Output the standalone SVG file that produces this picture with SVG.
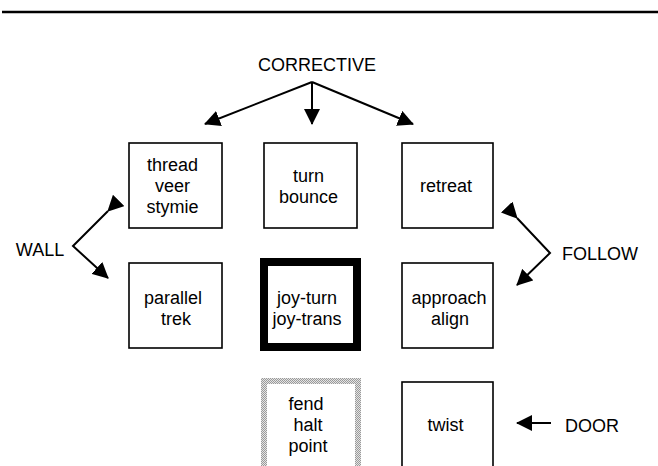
<svg xmlns="http://www.w3.org/2000/svg" width="658" height="466" viewBox="0 0 658 466">
<style>
text{font-family:"Liberation Sans",Arial,sans-serif;font-size:18px;fill:#000;text-anchor:middle}
.box{fill:#fff;stroke:#000;stroke-width:1.6}
.thick{fill:#fff;stroke:#000;stroke-width:8}
.dot{fill:#fff;stroke:url(#chk);stroke-width:6}
.con{stroke:#000;stroke-width:2;fill:none}
</style>
<defs>
<pattern id="chk" width="2" height="2" patternUnits="userSpaceOnUse">
<rect width="2" height="2" fill="#e4e4e4"/>
<rect width="1" height="1" fill="#9a9a9a"/>
<rect x="1" y="1" width="1" height="1" fill="#9a9a9a"/>
</pattern>
<marker id="ah" viewBox="0 0 16 16" refX="15" refY="8" markerWidth="16" markerHeight="16" markerUnits="userSpaceOnUse" orient="auto">
<path d="M0,0 L16,8 L0,16 z" fill="#000"/>
</marker>
</defs>
<line x1="2" y1="12" x2="658" y2="12" stroke="#000" stroke-width="2.5"/>
<text x="317" y="71">CORRECTIVE</text>
<text x="40" y="256">WALL</text>
<text x="600" y="260">FOLLOW</text>
<text x="592" y="432">DOOR</text>
<g id="connectors">
<line class="con" x1="312" y1="82" x2="205" y2="124" marker-end="url(#ah)"/>
<line class="con" x1="312" y1="82" x2="312" y2="124" marker-end="url(#ah)"/>
<line class="con" x1="312" y1="82" x2="413" y2="124" marker-end="url(#ah)"/>
<polyline class="con" points="108,211 73,246 108,278" marker-start="url(#ah)" marker-end="url(#ah)"/>
<polyline class="con" points="517,218 550,253 517,285" marker-start="url(#ah)" marker-end="url(#ah)"/>
<line class="con" x1="551" y1="423" x2="517" y2="423" marker-end="url(#ah)"/>
</g>
<g id="thread">
<rect class="box" x="129" y="143" width="93" height="85"/>
<text x="172.5" y="171">thread</text>
<text x="172.5" y="192">veer</text>
<text x="172.5" y="213">stymie</text>
</g>
<g id="turn">
<rect class="box" x="264" y="143" width="93" height="85"/>
<text x="308.5" y="182">turn</text>
<text x="308.5" y="203">bounce</text>
</g>
<g id="retreat">
<rect class="box" x="402" y="143" width="91" height="85"/>
<text x="446" y="192">retreat</text>
</g>
<g id="parallel">
<rect class="box" x="129" y="263" width="93" height="85"/>
<text x="173" y="304">parallel</text>
<text x="176" y="325">trek</text>
</g>
<g id="joy">
<rect class="thick" x="264" y="262" width="93" height="85"/>
<text x="307" y="304">joy-turn</text>
<text x="307" y="325">joy-trans</text>
</g>
<g id="approach">
<rect class="box" x="402" y="263" width="91" height="85"/>
<text x="449" y="304">approach</text>
<text x="450" y="325">align</text>
</g>
<g id="fend">
<rect class="dot" x="264" y="381" width="94" height="90"/>
<text x="306" y="410">fend</text>
<text x="308" y="431">halt</text>
<text x="308" y="452">point</text>
</g>
<g id="twist">
<rect class="box" x="402" y="382" width="91" height="90"/>
<text x="445.5" y="431">twist</text>
</g>
</svg>
